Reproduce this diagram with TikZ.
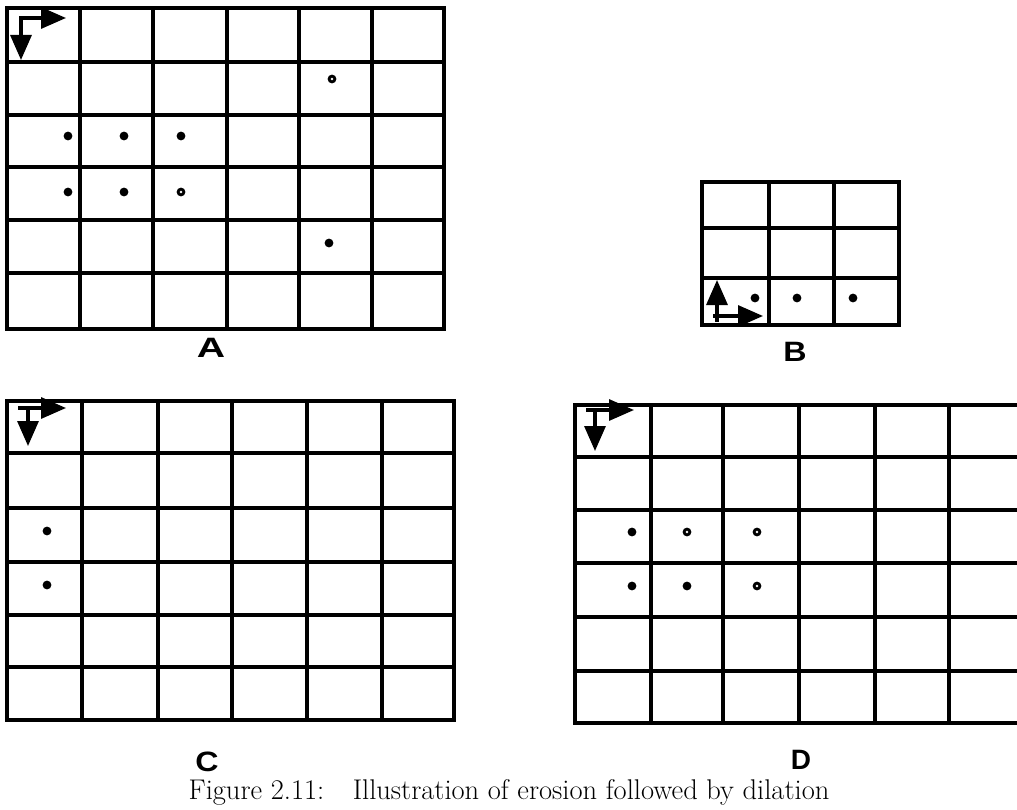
\documentclass[tikz,border=0pt]{standalone}
\usepackage{fontspec}
\newfontfamily\lblfont{Liberation Sans}
\usepackage{tikz}
\usetikzlibrary{arrows.meta}

\begin{document}
\begin{tikzpicture}[x=1pt, y=-1pt, line cap=butt, line join=miter,
    gridline/.style={black, line width=3.4pt},
    dotmark/.style={black},
    dirarrow/.style={black, line width=3.2pt,
      -{Triangle[length=25pt,width=21pt]}},
    lbl/.style={font=\lblfont\bfseries\fontsize{28}{32}\selectfont, inner sep=0pt}]
  \useasboundingbox (0,0) rectangle (1017,810);
  % A
  \foreach \x in {7,80,153,227,299,372,444}
    \draw[gridline] (\x,6.3) -- (\x,330.7);
  \foreach \y in {8,62,115,167,220,273,329}
    \draw[gridline] (5.3,\y) -- (445.7,\y);
  \coordinate (aR) at (66,18);
  \coordinate (aD) at (21,60);
  \draw[dirarrow, {Triangle[length=25pt,width=21pt]}-{Triangle[length=25pt,width=21pt]}]
    (aR) -| (aD);
  \foreach \px/\py in {68/136, 124/136, 181/136, 68/192, 124/192, 181/192,
                       332/79, 329/243}
    \fill[dotmark] (\px,\py) circle (4.4);
  \foreach \px/\py in {181/192, 332/79}
    \fill[white] (\px,\py) circle (1.4);
  \node[lbl] (labA) at (211,348) {\scalebox{1.4}[1]{A}};
  % B
  \foreach \x in {702,769,834,899}
    \draw[gridline] (\x,180.3) -- (\x,326.7);
  \foreach \y in {182,228,278,325}
    \draw[gridline] (700.3,\y) -- (900.7,\y);
  \coordinate (bU0) at (717,322);
  \coordinate (bU) at (717,280);
  \coordinate (bR0) at (713,316);
  \coordinate (bR) at (763,316);
  \draw[dirarrow] (bU0) -- (bU);
  \draw[dirarrow] (bR0) -- (bR);
  \foreach \px in {755,797,853}
    \fill[dotmark] (\px,298) circle (4.4);
  \node[lbl] (labB) at (795,352) {\scalebox{1.15}[1]{B}};
  % C
  \foreach \x in {7,82,158,232,307,382,454}
    \draw[gridline] (\x,399.3) -- (\x,721.7);
  \foreach \y in {401,453,508,562,615,667,720}
    \draw[gridline] (5.3,\y) -- (455.7,\y);
  \coordinate (cO) at (18,408);
  \coordinate (cR) at (66,408);
  \coordinate (cT) at (28,408);
  \coordinate (cD) at (28,446);
  \draw[black, line width=3.2pt] (cO) -- (cT);
  \draw[dirarrow] (cT) -- (cR);
  \draw[dirarrow] (cT) -- (cD);
  \foreach \py in {531,585}
    \fill[dotmark] (47,\py) circle (4.4);
  \node[lbl] (labC) at (207,762) {\scalebox{1.15}[1]{C}};
  % D
  \foreach \x in {575,651,723,799,875,949}
    \draw[gridline] (\x,403.3) -- (\x,724.7);
  \foreach \y in {405,457,510,563,617,671,723}
    \draw[gridline] (573.3,\y) -- (1020,\y);
  \coordinate (dO) at (586,410);
  \coordinate (dR) at (634,410);
  \coordinate (dT) at (595,410);
  \coordinate (dD) at (595,451);
  \draw[black, line width=3.2pt] (dO) -- (dT);
  \draw[dirarrow] (dT) -- (dR);
  \draw[dirarrow] (dT) -- (dD);
  \foreach \px/\py in {632/532, 687/532, 757/532, 632/586, 687/586, 757/586}
    \fill[dotmark] (\px,\py) circle (4.4);
  \foreach \px/\py in {687/532, 757/532, 757/586}
    \fill[white] (\px,\py) circle (1.4);
  \node[lbl] (labD) at (801,760) {D};
  \node[anchor=base, inner sep=0pt, font=\fontsize{28.5}{33}\selectfont] (cap) at (509,799)
    {Figure 2.11:\quad Illustration of erosion followed by dilation};
\end{tikzpicture}
\end{document}
